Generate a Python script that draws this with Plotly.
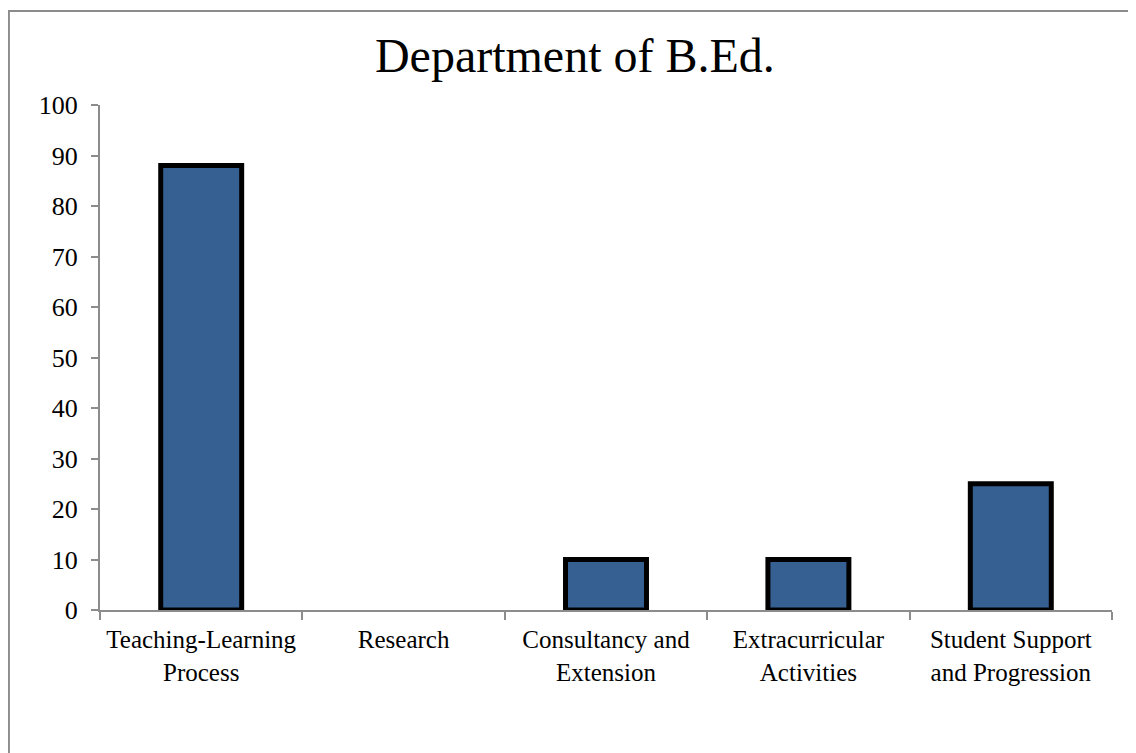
import plotly.graph_objects as go

categories = [
    "Teaching-Learning<br>Process",
    "Research",
    "Consultancy and<br>Extension",
    "Extracurricular<br>Activities",
    "Student Support<br>and Progression",
]
values = [88, 0, 10, 10, 25]
y_ticks = [0, 10, 20, 30, 40, 50, 60, 70, 80, 90, 100]

SERIF = "Liberation Serif, Times New Roman, serif"
AXIS_GREY = "#8c8c8c"

# no outline on an empty bar (Research), like the original
outline = [5 if v > 0 else 0 for v in values]

fig = go.Figure()
fig.add_trace(
    go.Bar(
        x=categories,
        y=values,
        marker=dict(color="#376092", line=dict(color="black", width=outline)),
        hoverinfo="x+y",
    )
)

fig.update_layout(
    width=1136,
    height=753,
    paper_bgcolor="white",
    plot_bgcolor="white",
    showlegend=False,
    bargap=0.6,
    margin=dict(l=92, r=32, t=97, b=151, autoexpand=False),
    title=dict(
        text="Department of B.Ed.",
        x=0.499,
        xanchor="center",
        y=0.9376,
        yanchor="middle",
        font=dict(family=SERIF, size=48, color="black"),
    ),
    font=dict(family=SERIF, color="black"),
)

fig.update_xaxes(
    showline=True,
    linecolor=AXIS_GREY,
    linewidth=2,
    ticks="outside",
    tickson="boundaries",
    ticklen=8,
    tickwidth=2,
    tickcolor=AXIS_GREY,
    tickangle=0,
    tickfont=dict(size=25, color="black"),
    ticklabelstandoff=6,
    showgrid=False,
    automargin=False,
)
fig.update_yaxes(
    range=[0, 100],
    tickvals=y_ticks,
    showline=True,
    linecolor=AXIS_GREY,
    linewidth=2,
    ticks="outside",
    ticklen=7,
    tickwidth=2,
    tickcolor=AXIS_GREY,
    tickfont=dict(size=26, color="black"),
    ticklabelstandoff=8,
    showgrid=False,
    zeroline=False,
    automargin=False,
)

# outer chart border (right and bottom sides fall outside the picture)
fig.add_shape(
    type="rect",
    xref="paper",
    yref="paper",
    x0=-0.09,
    x1=1.2,
    y0=-0.5,
    y1=1.186,
    line=dict(color=AXIS_GREY, width=2),
    layer="below",
)

fig.write_html("out.html")
